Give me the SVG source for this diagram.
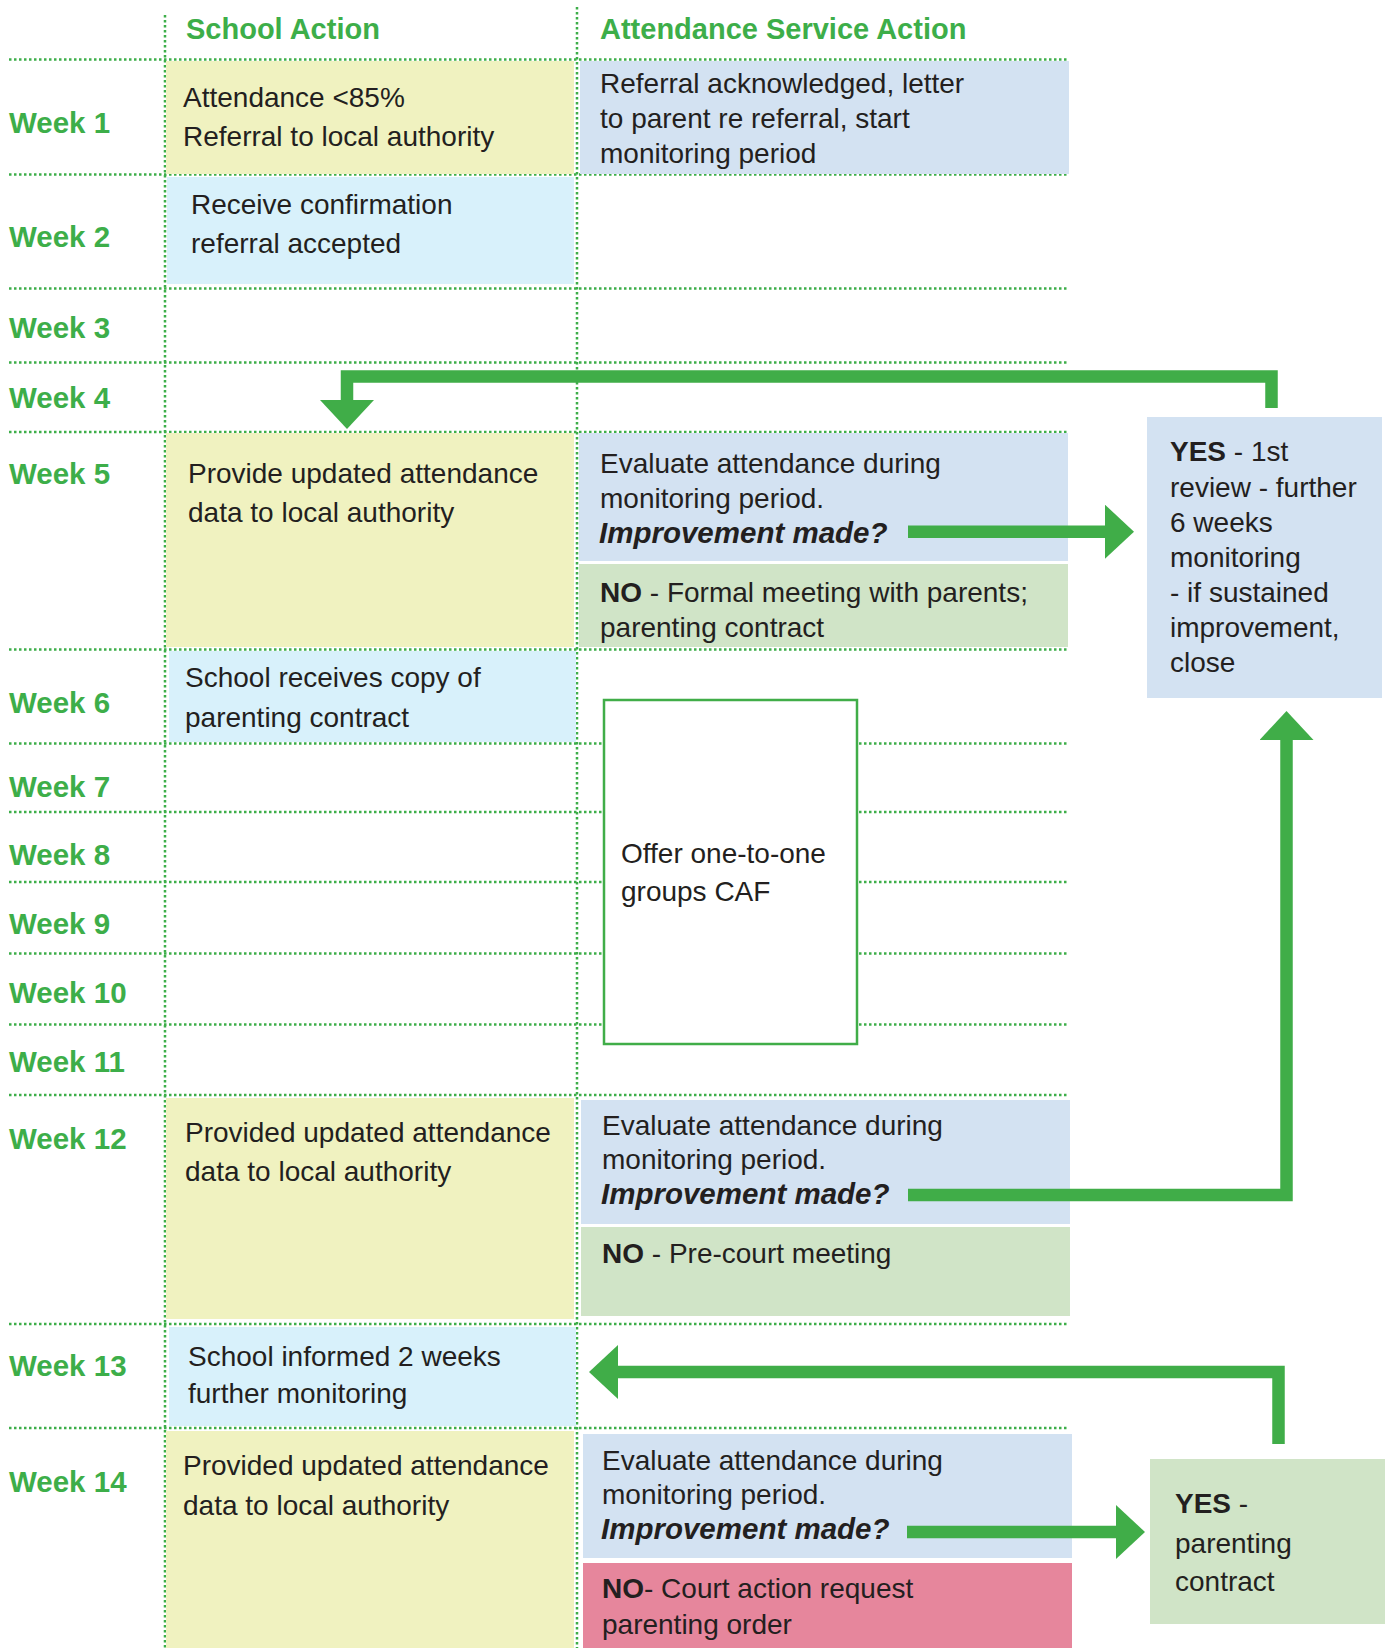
<svg xmlns="http://www.w3.org/2000/svg" width="1391" height="1648" viewBox="0 0 1391 1648">
<style>
text{font-family:"Liberation Sans",Arial,sans-serif;font-size:28px;fill:#231f20}
.wk{font-weight:bold;fill:#3dae49;font-size:29.5px}
.hd{font-weight:bold;fill:#3dae49;font-size:29px}
.b{font-weight:bold}
.bi{font-weight:bold;font-style:italic;font-size:29.5px}
.grid{stroke:#3dae49;stroke-width:2.5;stroke-dasharray:2.5 2.5;fill:none}
.yel{fill:#f0f2c0}
.lb{fill:#d8f1fb}
.sb{fill:#d3e2f2}
.gr{fill:#d0e4c7}
.pk{fill:#e6869c}
.conn{fill:none;stroke:#40ad48;stroke-width:12.5;stroke-linejoin:miter}
</style>
<defs>
<marker id="ah" markerUnits="userSpaceOnUse" markerWidth="29" markerHeight="54" viewBox="0 0 29 54" refX="0" refY="27" orient="auto">
<path d="M0,0 L29,27 L0,54 Z" fill="#40ad48"/>
</marker>
</defs>
<rect width="1391" height="1648" fill="#ffffff"/>

<g id="grid">
<line class="grid" x1="9" y1="59.5" x2="1069" y2="59.5"/>
<line class="grid" x1="9" y1="174.5" x2="1069" y2="174.5"/>
<line class="grid" x1="9" y1="288.5" x2="1069" y2="288.5"/>
<line class="grid" x1="9" y1="362.5" x2="1069" y2="362.5"/>
<line class="grid" x1="9" y1="432" x2="1069" y2="432"/>
<line class="grid" x1="9" y1="649.5" x2="1069" y2="649.5"/>
<line class="grid" x1="9" y1="743.5" x2="1069" y2="743.5"/>
<line class="grid" x1="9" y1="812" x2="1069" y2="812"/>
<line class="grid" x1="9" y1="882" x2="1069" y2="882"/>
<line class="grid" x1="9" y1="953.5" x2="1069" y2="953.5"/>
<line class="grid" x1="9" y1="1024.5" x2="1069" y2="1024.5"/>
<line class="grid" x1="9" y1="1095" x2="1069" y2="1095"/>
<line class="grid" x1="9" y1="1324" x2="1069" y2="1324"/>
<line class="grid" x1="9" y1="1428" x2="1069" y2="1428"/>
<line class="grid" x1="165" y1="15" x2="165" y2="1648"/>
<line class="grid" x1="577" y1="7" x2="577" y2="1648"/>
</g>

<g id="headers">
<text class="hd" x="186" y="39">School Action</text>
<text class="hd" x="600" y="39">Attendance Service Action</text>
</g>

<g id="weeks">
<text class="wk" x="9" y="133">Week 1</text>
<text class="wk" x="9" y="247">Week 2</text>
<text class="wk" x="9" y="338">Week 3</text>
<text class="wk" x="9" y="408">Week 4</text>
<text class="wk" x="9" y="484">Week 5</text>
<text class="wk" x="9" y="713">Week 6</text>
<text class="wk" x="9" y="797">Week 7</text>
<text class="wk" x="9" y="865">Week 8</text>
<text class="wk" x="9" y="934">Week 9</text>
<text class="wk" x="9" y="1003">Week 10</text>
<text class="wk" x="9" y="1072">Week 11</text>
<text class="wk" x="9" y="1149">Week 12</text>
<text class="wk" x="9" y="1376">Week 13</text>
<text class="wk" x="9" y="1492">Week 14</text>
</g>

<g id="n-w1-school">
<rect class="yel" x="166" y="61" width="408" height="113"/>
<text x="183" y="107">Attendance &lt;85%</text>
<text x="183" y="146">Referral to local authority</text>
</g>
<g id="n-w1-service">
<rect class="sb" x="580" y="61" width="489" height="113"/>
<text x="600" y="93">Referral acknowledged, letter</text>
<text x="600" y="128">to parent re referral, start</text>
<text x="600" y="163">monitoring period</text>
</g>
<g id="n-w2-school">
<rect class="lb" x="167" y="177" width="407" height="107"/>
<text x="191" y="214">Receive confirmation</text>
<text x="191" y="253">referral accepted</text>
</g>
<g id="n-w5-school">
<rect class="yel" x="166" y="433" width="408" height="214"/>
<text x="188" y="483">Provide updated attendance</text>
<text x="188" y="522">data to local authority</text>
</g>
<g id="n-w5-eval">
<rect class="sb" x="579" y="433" width="489" height="128"/>
<text x="600" y="473">Evaluate attendance during</text>
<text x="600" y="508">monitoring period.</text>
<text class="bi" x="599" y="543">Improvement made?</text>
</g>
<g id="n-w5-no">
<rect class="gr" x="579" y="564" width="489" height="83"/>
<text x="600" y="602"><tspan class="b">NO</tspan> - Formal meeting with parents;</text>
<text x="600" y="637">parenting contract</text>
</g>
<g id="n-yes1">
<rect class="sb" x="1147" y="417" width="235" height="281"/>
<text x="1170" y="461"><tspan class="b">YES</tspan> - 1st</text>
<text x="1170" y="497">review - further</text>
<text x="1170" y="532">6 weeks</text>
<text x="1170" y="567">monitoring</text>
<text x="1170" y="602">- if sustained</text>
<text x="1170" y="637">improvement,</text>
<text x="1170" y="672">close</text>
</g>
<g id="n-w6-school">
<rect class="lb" x="169" y="651" width="407" height="91"/>
<text x="185" y="687">School receives copy of</text>
<text x="185" y="727">parenting contract</text>
</g>
<g id="n-offer">
<rect x="604" y="700" width="253" height="344" fill="#ffffff" stroke="#40ad48" stroke-width="2.5"/>
<text x="621" y="863">Offer one-to-one</text>
<text x="621" y="901">groups CAF</text>
</g>
<g id="n-w12-school">
<rect class="yel" x="166" y="1098" width="408" height="221"/>
<text x="185" y="1142">Provided updated attendance</text>
<text x="185" y="1181">data to local authority</text>
</g>
<g id="n-w12-eval">
<rect class="sb" x="581" y="1100" width="489" height="124"/>
<text x="602" y="1135">Evaluate attendance during</text>
<text x="602" y="1169">monitoring period.</text>
<text class="bi" x="601" y="1204">Improvement made?</text>
</g>
<g id="n-w12-no">
<rect class="gr" x="581" y="1227" width="489" height="89"/>
<text x="602" y="1263"><tspan class="b">NO</tspan> - Pre-court meeting</text>
</g>
<g id="n-w13-school">
<rect class="lb" x="169" y="1327" width="407" height="99"/>
<text x="188" y="1366">School informed 2 weeks</text>
<text x="188" y="1403">further monitoring</text>
</g>
<g id="n-w14-school">
<rect class="yel" x="166" y="1431" width="408" height="217"/>
<text x="183" y="1475">Provided updated attendance</text>
<text x="183" y="1515">data to local authority</text>
</g>
<g id="n-w14-eval">
<rect class="sb" x="583" y="1434" width="489" height="124"/>
<text x="602" y="1470">Evaluate attendance during</text>
<text x="602" y="1504">monitoring period.</text>
<text class="bi" x="601" y="1539">Improvement made?</text>
</g>
<g id="n-w14-no">
<rect class="pk" x="583" y="1563" width="489" height="85"/>
<text x="602" y="1598"><tspan class="b">NO</tspan>- Court action request</text>
<text x="602" y="1634">parenting order</text>
</g>
<g id="n-yes2">
<rect class="gr" x="1150" y="1459" width="235" height="165"/>
<text x="1175" y="1513"><tspan class="b">YES</tspan> -</text>
<text x="1175" y="1553">parenting</text>
<text x="1175" y="1591">contract</text>
</g>

<g id="connectors">
<path class="conn" d="M1271.5,408 V376.4 H347 V400" marker-end="url(#ah)"/>
<path class="conn" d="M908,531.7 H1105" marker-end="url(#ah)"/>
<path class="conn" d="M908,1195 H1286.5 V740" marker-end="url(#ah)"/>
<path class="conn" d="M1278.5,1444 V1372 H618" marker-end="url(#ah)"/>
<path class="conn" d="M907,1532 H1116" marker-end="url(#ah)"/>
</g>
</svg>
